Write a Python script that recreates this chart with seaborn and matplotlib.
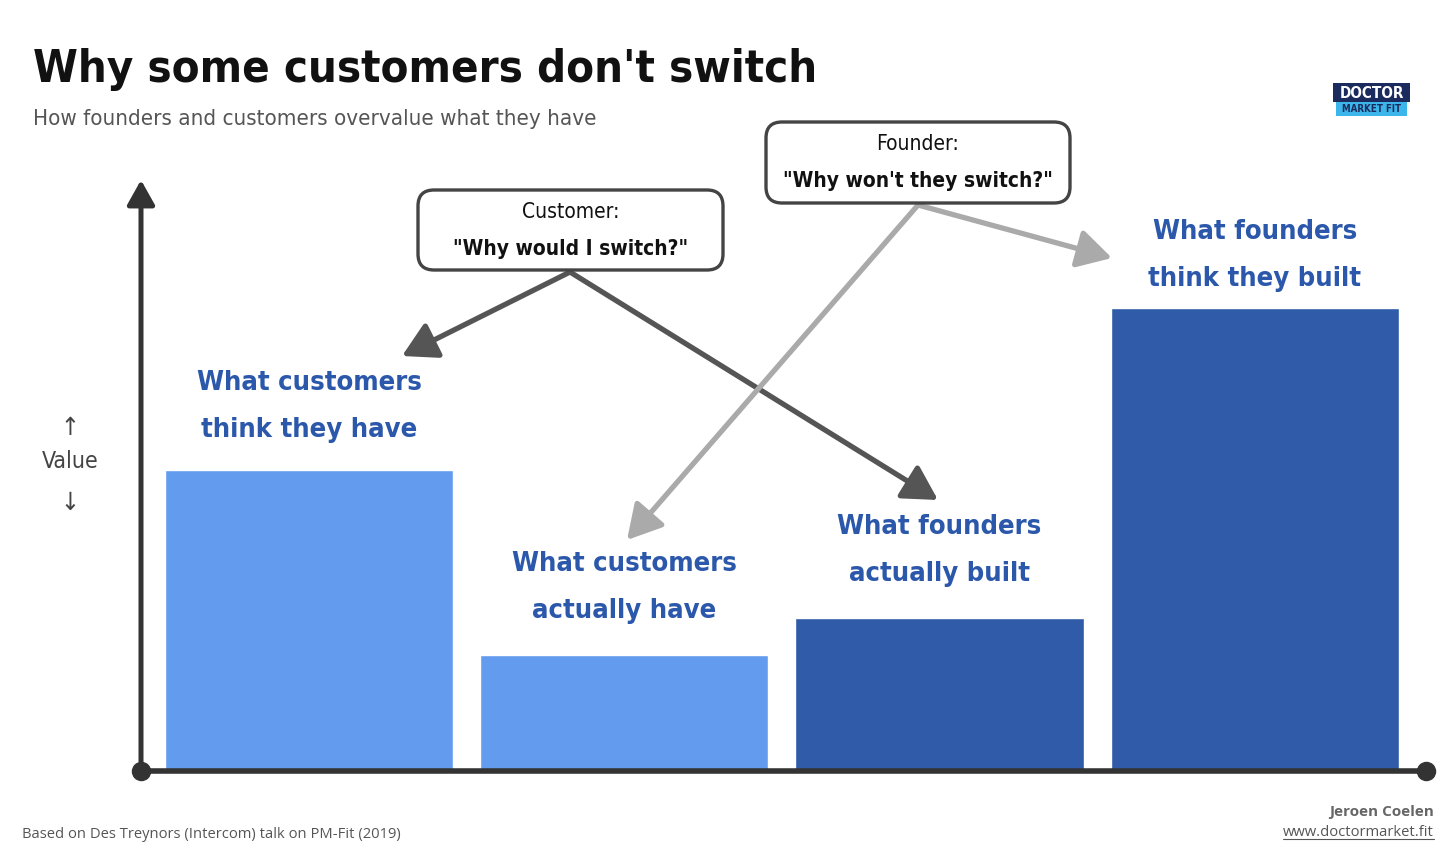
import numpy as np
import pandas as pd
import seaborn as sns
import matplotlib.pyplot as plt
from matplotlib.patches import FancyBboxPatch, Rectangle
from matplotlib.lines import Line2D
from matplotlib.transforms import IdentityTransform

# -------------------------
# data
# -------------------------
categories = ["What customers\nthink they have", "What customers\nactually have",
              "What founders\nactually built", "What founders\nthink they built"]
values = [65, 25, 33, 100]
bar_colors = ["#639CEF", "#639CEF", "#2F5BA9", "#2F5BA9"]
label_lift = [63, 68, 68, 52]   # px above bar top (label block centre)

title = "Why some customers don't switch"
subtitle = "How founders and customers overvalue what they have"
footer_left = "Based on Des Treynors (Intercom) talk on PM-Fit (2019)"
author = "Jeroen Coelen"
site = "www.doctormarket.fit"

# -------------------------
# style
# -------------------------
sns.set_theme(style="white")
plt.rcParams["font.family"] = ["DejaVu Sans"]
plt.rcParams["font.stretch"] = "condensed"

W, H = 1456, 860
fig = plt.figure(figsize=(W / 100, H / 100), dpi=100)
fig.patch.set_facecolor("white")

def fx(px):
    return px / W

def fy(py):
    return 1 - py / H

# axes: y-axis line at x=141px, baseline at y=771px, arrow tip y=180px
ax = fig.add_axes([fx(141), fy(771), (1426 - 141) / W, (771 - 180) / H])
df = pd.DataFrame({"label": categories, "value": values})
sns.barplot(data=df, x="label", y="value", hue="label", palette=bar_colors,
            width=0.914, saturation=1, legend=False, ax=ax)
ax.set_xlim(-0.533, 3.543)
ax.set_ylim(0, 127.6)
ax.set_axis_off()

# axis lines
axis_col = "#333333"
ax.annotate("", xy=(0, 1), xycoords="axes fraction", xytext=(0, 0),
            textcoords="axes fraction",
            arrowprops=dict(arrowstyle="-|>,head_length=0.75,head_width=0.42",
                            lw=3.6, color=axis_col, mutation_scale=20,
                            shrinkA=0, shrinkB=0, joinstyle="round"))
ax.plot([0, 1], [0, 0], transform=ax.transAxes, color=axis_col, lw=4,
        clip_on=False, solid_capstyle="butt")
ax.plot([0, 1], [0, 0], transform=ax.transAxes, ls="none", marker="o",
        ms=13, color=axis_col, clip_on=False)

# bar labels
for i, (lab, v) in enumerate(zip(categories, values)):
    ax.annotate(lab, xy=(i, v), xytext=(0, label_lift[i] * 0.72),
                textcoords="offset points", ha="center", va="center",
                fontsize=19.6, fontweight="bold", color="#2B58AB",
                linespacing=2.05)

# title
fig.text(fx(33), fy(82), title, fontsize=32.6, fontweight="bold", color="#111111",
         va="baseline", ha="left")
fig.text(fx(33), fy(125), subtitle, fontsize=16, color="#555555",
         va="baseline", ha="left")

# value label
fig.text(fx(70), fy(428), "↑", fontsize=18, color="#444444", ha="center",
         va="center")
fig.text(fx(70), fy(462), "Value", fontsize=16.6, color="#444444", ha="center",
         va="center")
fig.text(fx(70), fy(503), "↓", fontsize=18, color="#444444", ha="center",
         va="center")

# callout boxes
def callout(x0, y0, x1, y1, who, quote):
    box = FancyBboxPatch((x0, H - y1), x1 - x0, y1 - y0,
                         boxstyle="round,pad=0,rounding_size=16",
                         transform=IdentityTransform(), fc="white",
                         ec="#444444", lw=2.4, zorder=5)
    fig.add_artist(box)
    cx = (x0 + x1) / 2
    fig.text(fx(cx), fy(y0 + 22), who, fontsize=15, color="#111111",
             ha="center", va="center", zorder=6)
    fig.text(fx(cx), fy(y0 + 59), quote, fontsize=15, fontweight="bold",
             color="#111111", ha="center", va="center", zorder=6)

def arrow(p0, p1, col):
    fig.add_artist(plt.Annotation(
        "", xy=(fx(p1[0]), fy(p1[1])), xycoords="figure fraction",
        xytext=(fx(p0[0]), fy(p0[1])), textcoords="figure fraction",
        arrowprops=dict(arrowstyle="-|>,head_length=0.8,head_width=0.45",
                        lw=3.8, color=col, mutation_scale=26,
                        shrinkA=0, shrinkB=0, joinstyle="round")))

arrow((570, 272), (402, 356), "#555555")
arrow((570, 272), (938, 500), "#555555")
arrow((918, 205), (627, 540), "#AAAAAA")
arrow((918, 205), (1112, 258), "#AAAAAA")

callout(418, 190, 723, 270, "Customer:", '"Why would I switch?"')
callout(766, 122, 1070, 203, "Founder:", '"Why won\'t they switch?"')

# logo badge (simplified)
fig.add_artist(Rectangle((1333, H - 102), 77, 19, transform=IdentityTransform(),
                         fc="#1C2B5E", ec="none"))
fig.add_artist(Rectangle((1336, H - 116), 71, 14, transform=IdentityTransform(),
                         fc="#3CB6EA", ec="none"))
fig.text(fx(1371.5), fy(93), "DOCTOR", fontsize=11, fontweight="bold",
         color="white", ha="center", va="center")
fig.text(fx(1371.5), fy(109), "MARKET FIT", fontsize=7, fontweight="bold",
         color="#1C2B5E", ha="center", va="center")

# footer
fig.text(fx(22), fy(834), footer_left, fontsize=10.6, color="#555555",
         ha="left", va="center", family="Open Sans", stretch="normal")
fig.text(fx(1434), fy(812), author, fontsize=11, fontweight="bold",
         color="#666666", ha="right", va="center", family="Open Sans",
         stretch="normal")
url = fig.text(fx(1434), fy(832), site, fontsize=10.6, color="#555555",
               ha="right", va="center", family="Open Sans", stretch="normal")
fig.canvas.draw()
bb = url.get_window_extent()
fig.add_artist(Line2D([bb.x0, bb.x1], [bb.y0 + 1, bb.y0 + 1],
                      transform=IdentityTransform(), color="#555555", lw=0.8))

fig.savefig("out.png", dpi=100)
